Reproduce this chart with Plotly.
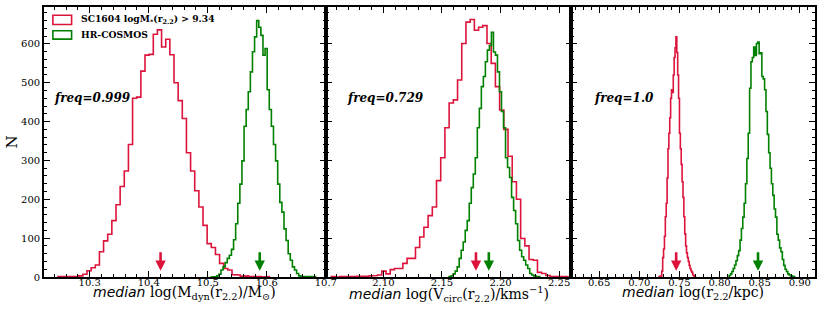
import plotly.graph_objects as go

# ---------------- data ----------------
# Panel 1: median log(Mdyn(r2.2)/Msun)
p1_red_start, p1_red_width = 10.2462, 0.00702
p1_red_counts = [1, 1, 1, 2, 2, 3, 7, 16, 24, 31,
                 65, 93, 110, 145, 186, 233, 273, 341, 460, 463,
                 530, 571, 573, 625, 636, 592, 612, 572, 500, 454,
                 408, 320, 273, 222, 180, 133, 86, 76, 58, 35,
                 22, 18, 6, 5, 2, 3, 1, 2, 1, 0, 1]
p1_green_start, p1_green_width = 10.5045, 0.00356
p1_green_counts = [0, 1, 1, 3, 7, 18, 26, 37, 48, 56, 71, 96, 137, 190,
                   239, 299, 388, 431, 477, 528, 580, 618, 660, 643,
                   622, 571, 588, 482, 431, 388, 341, 299, 239, 192,
                   167, 124, 94, 60, 43, 26, 18, 9, 3, 1,
                   1, 0, 1, 0, 0, 1]

# Panel 2: median log(Vcirc(r2.2)/km s^-1)
p2_red_start, p2_red_width = 2.0556, 0.00359
p2_red_counts = [1, 0, 1, 1, 0, 1, 2, 1, 2, 3,
                 4, 5, 15, 8, 19, 22, 22, 35, 48, 48,
                 76, 103, 128, 158, 180, 248, 307, 384, 448, 456,
                 507, 601, 656, 663, 635, 643, 647, 601, 550, 490,
                 430, 380, 311, 245, 200, 99, 80, 45, 43, 12,
                 9, 4, 2, 2, 1, 1, 0, 1]
p2_green_start, p2_green_width = 2.1561, 0.00172
p2_green_counts = [1, 3, 8, 15, 26, 48, 69, 90, 120, 145,
                   190, 230, 265, 307, 384, 434, 490, 516, 554, 584,
                   596, 630, 579, 571, 528, 477, 426, 384, 307, 282,
                   256, 205, 171, 137, 94, 69, 52, 43, 31, 22,
                   9, 5, 3, 1, 1]

# Panel 3: median log(r2.2/kpc)
p3_red_start, p3_red_width = 0.7248, 0.0011
p3_red_counts = [1, 2, 3, 15, 50, 72, 105, 155, 190, 255, 330, 370,
                 410, 460, 482, 475, 520, 565, 590, 618, 578, 520,
                 460, 370, 330, 290, 245, 205, 155, 111, 80, 62,
                 50, 40, 30, 22, 16, 12, 6, 3, 1]
p3_green_start, p3_green_width = 0.8120, 0.0017
p3_green_counts = [4, 8, 14, 22, 31, 42, 55, 68, 95, 125,
                   154, 190, 240, 305, 370, 486, 554, 565, 592, 570,
                   601, 605, 575, 577, 516, 510, 482, 426, 367, 320,
                   280, 240, 210, 175, 154, 110, 95, 75, 65, 45,
                   30, 20, 14, 8, 5, 3, 2, 1]

red_medians = [10.420, 2.179, 0.746]
green_medians = [10.588, 2.190, 0.848]
freq_labels = ["freq=0.999", "freq=0.729", "freq=1.0"]
legend_labels = ["SC1604 logM<sub>*</sub>(r<sub>2.2</sub>) &gt; 9.34", "HR-COSMOS"]
x_titles = [
    "log(M<sub>dyn</sub>(r<sub>2.2</sub>)/M<sub>\u2299</sub>)",
    "log(V<sub>circ</sub>(r<sub>2.2</sub>)/kms<sup>\u22121</sup>)",
    "log(r<sub>2.2</sub>/kpc)",
]
y_title = "N"

# ---------------- styling ----------------
RED = "#DC143C"
GREEN = "#008000"
SERIF = "DejaVu Serif"

x_ranges = [[10.2225, 10.7002], [2.051, 2.2605], [0.6155, 0.9190]]
x_dticks = [0.1, 0.05, 0.05]
x_tick0 = [10.3, 2.10, 0.65]
x_minor = [0.02, 0.01, 0.01]
x_fmt = [".1f", ".2f", ".2f"]
domains = [[0.0, 0.3657], [0.3657, 0.6841], [0.6841, 1.0]]


def step_xy(start, width, counts):
    xs, ys = [start], [0]
    for i, c in enumerate(counts):
        x0 = start + i * width
        xs += [x0, x0 + width]
        ys += [c, c]
    xs.append(start + len(counts) * width)
    ys.append(0)
    return xs, ys


panels = [
    (p1_red_start, p1_red_width, p1_red_counts, p1_green_start, p1_green_width, p1_green_counts),
    (p2_red_start, p2_red_width, p2_red_counts, p2_green_start, p2_green_width, p2_green_counts),
    (p3_red_start, p3_red_width, p3_red_counts, p3_green_start, p3_green_width, p3_green_counts),
]

fig = go.Figure()
for k, (rs, rw, rc, gs, gw, gc) in enumerate(panels):
    xa = "x" if k == 0 else f"x{k+1}"
    ya = "y" if k == 0 else f"y{k+1}"
    xs, ys = step_xy(rs, rw, rc)
    fig.add_trace(go.Scatter(x=xs, y=ys, mode="lines", line=dict(color=RED, width=1.6),
                             xaxis=xa, yaxis=ya, showlegend=False, hoverinfo="skip"))
    xs, ys = step_xy(gs, gw, gc)
    fig.add_trace(go.Scatter(x=xs, y=ys, mode="lines", line=dict(color=GREEN, width=1.6),
                             xaxis=xa, yaxis=ya, showlegend=False, hoverinfo="skip"))

layout = dict(
    width=831, height=314,
    margin=dict(l=44, r=5, t=5, b=37),
    plot_bgcolor="white", paper_bgcolor="white",
    showlegend=False,
    font=dict(family=SERIF, color="black"),
)

for k in range(3):
    xkey = "xaxis" if k == 0 else f"xaxis{k+1}"
    ykey = "yaxis" if k == 0 else f"yaxis{k+1}"
    ya = "y" if k == 0 else f"y{k+1}"
    layout[xkey] = dict(
        domain=domains[k], anchor=ya, range=x_ranges[k],
        tickmode="linear", tick0=x_tick0[k], dtick=x_dticks[k], tickformat=x_fmt[k],
        ticks="inside", ticklen=6, tickwidth=1.2, tickcolor="black",
        minor=dict(ticks="inside", ticklen=3, tickwidth=1, tickcolor="black",
                   tick0=x_tick0[k], dtick=x_minor[k], showgrid=False),
        showline=True, linecolor="black", linewidth=1.6, mirror="ticks",
        showgrid=False, zeroline=False,
        ticklabelstandoff=-5,
        tickfont=dict(family=SERIF, size=10, color="black"),
    )
    ydict = dict(
        domain=[0, 1], anchor="x" if k == 0 else f"x{k+1}", range=[0, 695],
        tickmode="linear", tick0=0, dtick=100,
        ticks="inside", ticklen=6, tickwidth=1.2, tickcolor="black",
        minor=dict(ticks="inside", ticklen=3, tickwidth=1, tickcolor="black",
                   tick0=0, dtick=20, showgrid=False),
        showline=True, linecolor="black", linewidth=1.6, mirror="ticks",
        showgrid=False, zeroline=False,
        tickfont=dict(family=SERIF, size=10, color="black"),
        showticklabels=(k == 0),
    )
    if k > 0:
        ydict["matches"] = "y"
    layout[ykey] = ydict

fig.update_layout(**layout)

annotations = []
shapes = []
freq_x = [0.028, 0.078, 0.086]
for k in range(3):
    xa = "x" if k == 0 else f"x{k+1}"
    ya = "y" if k == 0 else f"y{k+1}"
    # freq text
    annotations.append(dict(
        text=f"<b><i>{freq_labels[k]}</i></b>", xref=f"{xa} domain", yref=f"{ya} domain",
        x=freq_x[k], y=0.662, xanchor="left", yanchor="middle", showarrow=False,
        font=dict(family=SERIF, size=12, color="black")))
    # x title
    annotations.append(dict(
        text=f"<span style='font-family:DejaVu Sans;font-style:italic'>median</span> {x_titles[k]}",
        xref=f"{xa} domain", yref="paper", x=0.5, y=-0.017, xanchor="center", yanchor="top",
        showarrow=False, font=dict(family=SERIF, size=14, color="black")))
    # median arrows
    for med, col in ((red_medians[k], RED), (green_medians[k], GREEN)):
        annotations.append(dict(
            x=med, y=16, xref=xa, yref=ya, text="", showarrow=True,
            ax=0, ay=-20, axref="pixel", ayref="pixel",
            arrowcolor=col, arrowwidth=2.6, arrowhead=2, arrowsize=0.8, standoff=0))

# y title
annotations.append(dict(text=y_title, xref="paper", yref="paper", x=-0.041, y=0.5,
                        xanchor="center", yanchor="middle", textangle=-90, showarrow=False,
                        font=dict(family=SERIF, size=15, color="black")))

# manual legend (open rectangles as in the reference)
leg_cols = [RED, GREEN]
leg_y = [(0.935, 0.9695), (0.881, 0.912)]
leg_ty = [0.952, 0.897]
for i in range(2):
    shapes.append(dict(type="rect", xref="x domain", yref="y domain",
                       x0=0.0315, x1=0.0979, y0=leg_y[i][0], y1=leg_y[i][1],
                       line=dict(color=leg_cols[i], width=1.6), fillcolor="rgba(0,0,0,0)"))
    annotations.append(dict(text=f"<b>{legend_labels[i]}</b>", xref="x domain", yref="y domain",
                            x=0.1224, y=leg_ty[i], xanchor="left", yanchor="middle", showarrow=False,
                            font=dict(family=SERIF, size=9.2, color="black")))

fig.update_layout(annotations=annotations, shapes=shapes)
fig.write_html("out.html", config={"displayModeBar": False},
               post_script="document.body.style.margin='0px';")
